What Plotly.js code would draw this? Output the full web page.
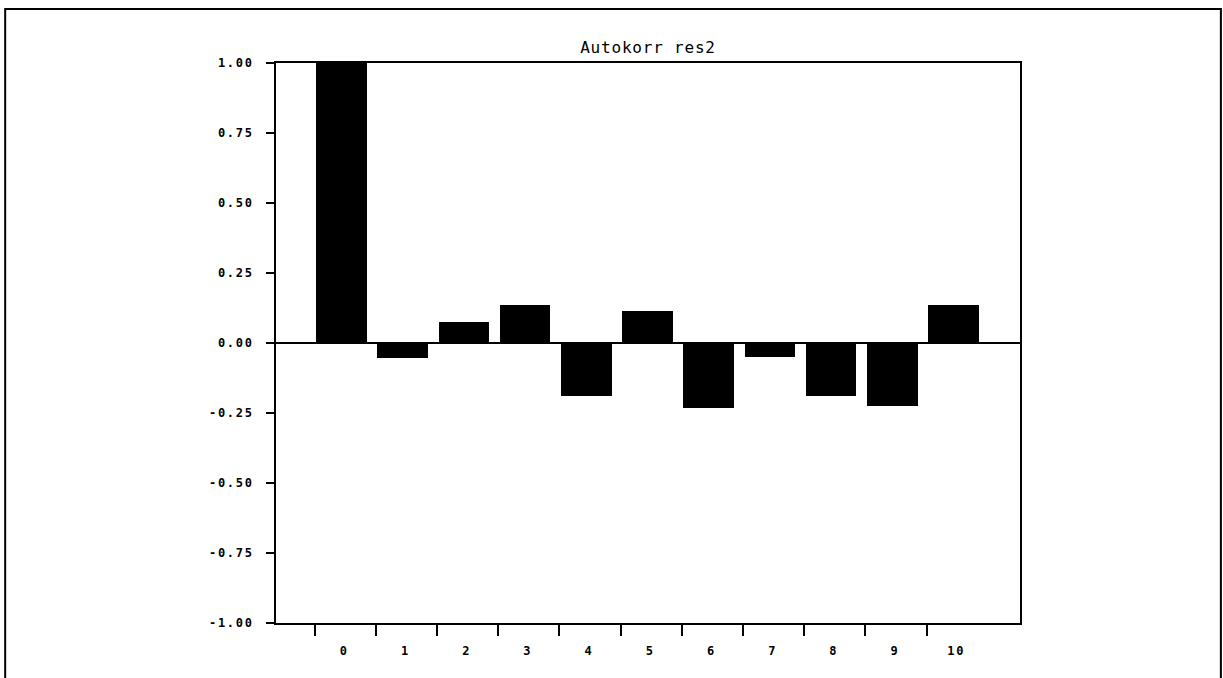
<!DOCTYPE html>
<html>
<head>
<meta charset="utf-8">
<script src="https://cdn.plot.ly/plotly-3.0.1.min.js"></script>
<style>
html, body { margin: 0; padding: 0; background: #fff; }
#chart { width: 1223px; height: 678px; }
.ytick text, .x2tick text { letter-spacing: 1.7px; }
.gtitle { letter-spacing: 0.8px; }
</style>
</head>
<body>
<div id="chart"></div>
<script>
// Data
var lags = [0, 1, 2, 3, 4, 5, 6, 7, 8, 9, 10];
var acf = [1.00, -0.054, 0.076, 0.135, -0.19, 0.115, -0.233, -0.05, -0.19, -0.226, 0.135];
var yTickVals = [-1, -0.75, -0.5, -0.25, 0, 0.25, 0.5, 0.75, 1];
var yTickText = ['-1.00', '-0.75', '-0.50', '-0.25', '0.00', '0.25', '0.50', '0.75', '1.00'];
var xTickMarks = [-0.44, 0.56, 1.56, 2.56, 3.56, 4.56, 5.56, 6.56, 7.56, 8.56, 9.56];
var titleText = 'Autokorr res2';

var tickFont = { family: 'DejaVu Sans Mono, monospace', size: 12, color: '#000', weight: 'bold' };
var xRange = [-1.070, 11.087];
var xLabelRange = [-1.115, 11.042];

var data = [{
  type: 'bar',
  x: lags,
  y: acf,
  width: 0.825,
  marker: { color: '#000', line: { width: 0 } },
  hoverinfo: 'x+y'
}, {
  type: 'scatter',
  x: lags,
  y: acf,
  xaxis: 'x2',
  mode: 'markers',
  marker: { opacity: 0 },
  hoverinfo: 'skip',
  showlegend: false
}];

var layout = {
  width: 1223,
  height: 678,
  margin: { l: 276, r: 203, t: 63, b: 55, pad: 0 },
  paper_bgcolor: '#fff',
  plot_bgcolor: '#fff',
  showlegend: false,
  bargap: 0,
  title: {
    text: titleText,
    font: { family: 'DejaVu Sans Mono, monospace', size: 16, color: '#000' },
    x: 0.5, xref: 'paper', xanchor: 'center',
    y: 0.9307, yref: 'container', yanchor: 'middle'
  },
  xaxis: {
    range: xRange,
    showgrid: false,
    zeroline: false,
    showline: true,
    linecolor: '#000',
    linewidth: 2,
    mirror: true,
    ticks: 'outside',
    ticklen: 11,
    tickwidth: 2,
    tickcolor: '#000',
    tickvals: xTickMarks,
    ticktext: xTickMarks.map(function () { return ''; }),
    fixedrange: true
  },
  xaxis2: {
    overlaying: 'x',
    side: 'bottom',
    range: xLabelRange,
    showgrid: false,
    zeroline: false,
    showline: false,
    ticks: '',
    tickvals: lags,
    ticktext: lags.map(String),
    tickfont: tickFont,
    ticklabelstandoff: 19,
    fixedrange: true
  },
  yaxis: {
    range: [-1, 1],
    showgrid: false,
    zeroline: true,
    zerolinecolor: '#000',
    zerolinewidth: 2,
    showline: true,
    linecolor: '#000',
    linewidth: 2,
    mirror: true,
    ticks: 'outside',
    ticklen: 8,
    tickwidth: 2,
    tickcolor: '#000',
    tickvals: yTickVals,
    ticktext: yTickText,
    tickfont: tickFont,
    ticklabelstandoff: 10,
    fixedrange: true
  },
  shapes: [{
    type: 'rect',
    xref: 'paper', yref: 'paper',
    x0: -0.364, x1: 1.270,
    y0: -0.2, y1: 1.0964,
    line: { color: '#000', width: 2 },
    fillcolor: 'rgba(0,0,0,0)',
    layer: 'below'
  }]
};

Plotly.newPlot('chart', data, layout, { displayModeBar: false });
</script>
</body>
</html>
